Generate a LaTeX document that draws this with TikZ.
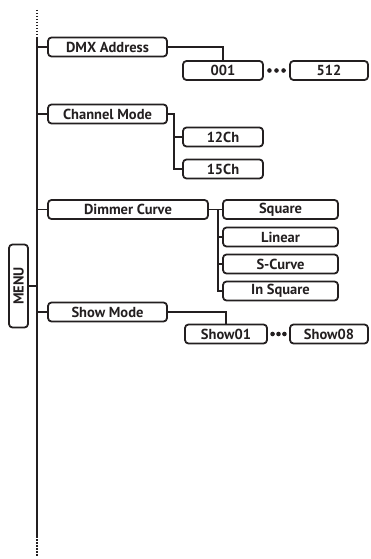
\documentclass[tikz,border=0pt]{standalone}
\usepackage{fontspec}
\setmainfont{PT Sans}
\usepackage{tikz}
\usetikzlibrary{calc}
\definecolor{menuink}{RGB}{35,31,32}

\begin{document}
\begin{tikzpicture}[x=1pt, y=-1pt,
    item/.style={draw=menuink, line width=1.8pt, rounded corners=3.5pt, minimum height=19pt,
        inner sep=0pt, text=menuink, font=\bfseries\fontsize{14.5}{15}\selectfont},
    wire/.style={draw=menuink, line width=1.4pt}]
    \useasboundingbox (0,0) rectangle (371,559);

    % trunk, dotted at both ends
    \coordinate (top) at (37,10);
    \coordinate (trunktop) at (37,38);
    \coordinate (trunkbot) at (37,536);
    \coordinate (bottom) at (37,556);
    \draw[wire, line width=1.8pt] (trunktop) -- (trunkbot);
    \draw[wire, line width=1.8pt, dash pattern=on 1.5pt off 1.5pt] (top) -- (trunktop);
    \draw[wire, line width=1.8pt, dash pattern=on 1.5pt off 1.5pt] (trunkbot) -- (bottom);

    \node[item, minimum width=83pt, rotate=90] (menu) at (18.5,286) {MENU};
    \draw[wire] (menu.south) -- (menu.south -| trunktop);

    % DMX address
    \node[item, minimum width=119pt] (dmx) at (107.5,47) {DMX Address};
    \node[item, minimum width=80pt] (d001) at (223,70.5) {001};
    \node[item, minimum width=78pt] (d512) at (329,70.5) {512};
    \draw[wire] (dmx.west -| trunktop) -- (dmx.west);
    \draw[wire] (dmx.east) -| (d001.north);
    \foreach \t in {0.22,0.5,0.78}
        \fill[menuink] ($(d001.east)!\t!(d512.west)$) circle (2.3pt);

    % channel mode
    \node[item, minimum width=119pt] (chan) at (107.5,114) {Channel Mode};
    \node[item, minimum width=80pt] (ch12) at (223,137) {12Ch};
    \node[item, minimum width=80pt] (ch15) at (223,169) {15Ch};
    \draw[wire] (chan.west -| trunktop) -- (chan.west);
    \coordinate (chanfork) at ($(chan.east)+(6,0)$);
    \draw[wire] (chan.east) -- (chanfork) |- (ch15.west);
    \draw[wire] (chanfork |- ch12.west) -- (ch12.west);

    % dimmer curve
    \node[item, minimum width=160pt] (dim) at (128,209.5) {Dimmer Curve};
    \node[item, minimum width=115pt] (sq) at (280.5,209.5) {Square};
    \node[item, minimum width=115pt] (lin) at (280.5,237) {Linear};
    \node[item, minimum width=115pt] (scurve) at (280.5,264) {S-Curve};
    \node[item, minimum width=115pt] (insq) at (280.5,291) {In Square};
    \draw[wire] (dim.west -| trunktop) -- (dim.west);
    \coordinate (dimfork) at ($(dim.east)+(9,0)$);
    \draw[wire] (dim.east) -- (sq.west);
    \draw[wire] (dimfork) |- (insq.west);
    \draw[wire] (dimfork |- lin.west) -- (lin.west);
    \draw[wire] (dimfork |- scurve.west) -- (scurve.west);

    % show mode
    \node[item, minimum width=119pt] (show) at (107.5,312) {Show Mode};
    \node[item, minimum width=82pt] (s01) at (226,334) {Show01};
    \node[item, minimum width=78pt] (s08) at (329,334) {Show08};
    \draw[wire] (show.west -| trunktop) -- (show.west);
    \draw[wire] (show.east) -| (s01.north);
    \foreach \t in {0.22,0.5,0.78}
        \fill[menuink] ($(s01.east)!\t!(s08.west)$) circle (2.3pt);
\end{tikzpicture}
\end{document}
